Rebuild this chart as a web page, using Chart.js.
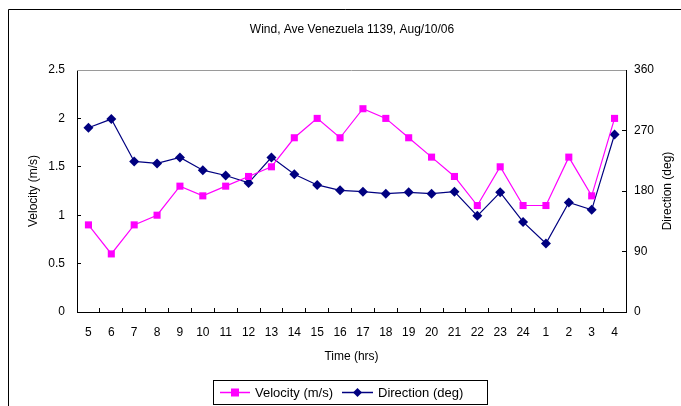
<!DOCTYPE html>
<html>
<head>
<meta charset="utf-8">
<script src="https://cdn.jsdelivr.net/npm/chart.js@4.4.1/dist/chart.umd.min.js"></script>
<style>
  html, body { margin: 0; padding: 0; background: #fff; }
  #wrap { position: relative; width: 681px; height: 406px; }
</style>
</head>
<body>
<div id="wrap"><canvas id="c" width="681" height="406"></canvas></div>
<script>
// Hour of day for each reading
const hours = ['5','6','7','8','9','10','11','12','13','14','15','16','17','18','19','20','21','22','23','24','1','2','3','4'];
// Wind speed (m/s)
const velocity = [0.9, 0.6, 0.9, 1.0, 1.3, 1.2, 1.3, 1.4, 1.5, 1.8, 2.0, 1.8, 2.1, 2.0, 1.8, 1.6, 1.4, 1.1, 1.5, 1.1, 1.1, 1.6, 1.2, 2.0];
// Wind direction (deg)
const direction = [274, 287, 224, 221, 230, 211, 203, 192, 230, 205, 189, 181, 179, 176, 178, 176, 179, 143, 178, 134, 102, 163, 152, 264];

const chartTitle = 'Wind, Ave Venezuela 1139, Aug/10/06';
const velocityLabel = 'Velocity (m/s)';
const directionLabel = 'Direction (deg)';
const timeLabel = 'Time (hrs)';

const FONT = "'Liberation Sans', Arial, sans-serif";
const PINK = '#FF00FF';
const NAVY = '#000080';

const frame = {
  id: 'frame',
  beforeDraw(chart) {
    const ctx = chart.ctx;
    ctx.save();
    ctx.fillStyle = '#fff';
    ctx.fillRect(0, 0, chart.width, chart.height);
    ctx.restore();
  },
  afterDraw(chart) {
    const ctx = chart.ctx;
    const a = chart.chartArea;
    ctx.save();
    // outer border
    ctx.strokeStyle = '#000';
    ctx.lineWidth = 1;
    ctx.beginPath();
    ctx.moveTo(8.5, chart.height + 2);
    ctx.lineTo(8.5, 9.5);
    ctx.lineTo(chart.width + 2, 9.5);
    ctx.stroke();
    // top edge of plot area
    ctx.strokeStyle = '#9a9a9a';
    ctx.beginPath();
    ctx.moveTo(a.left, a.top + 0.5);
    ctx.lineTo(a.right, a.top + 0.5);
    ctx.stroke();
    // title
    ctx.fillStyle = '#000';
    ctx.font = '12px ' + FONT;
    ctx.textAlign = 'center';
    ctx.textBaseline = 'middle';
    ctx.fillText(chartTitle, 352, 30);
    // right axis title
    ctx.save();
    ctx.translate(668, (a.top + a.bottom) / 2);
    ctx.rotate(-Math.PI / 2);
    ctx.fillText(directionLabel, 0, 0);
    ctx.restore();
    // legend
    const lx = 213.5, ly = 380.5, lw = 274, lh = 24;
    ctx.strokeStyle = '#000';
    ctx.strokeRect(lx, ly, lw, lh);
    const cy = ly + lh / 2;
    ctx.font = '13px ' + FONT;
    ctx.textAlign = 'left';
    // velocity entry
    ctx.strokeStyle = PINK; ctx.lineWidth = 1.5;
    ctx.beginPath(); ctx.moveTo(220, cy); ctx.lineTo(250, cy); ctx.stroke();
    ctx.fillStyle = PINK; ctx.fillRect(231, cy - 4, 8, 8);
    ctx.fillStyle = '#000'; ctx.fillText(velocityLabel, 255, cy + 1);
    // direction entry
    ctx.strokeStyle = NAVY;
    ctx.beginPath(); ctx.moveTo(342, cy); ctx.lineTo(373, cy); ctx.stroke();
    ctx.fillStyle = NAVY;
    ctx.beginPath();
    ctx.moveTo(357.5, cy - 4.5); ctx.lineTo(362, cy); ctx.lineTo(357.5, cy + 4.5); ctx.lineTo(353, cy);
    ctx.closePath(); ctx.fill();
    ctx.fillStyle = '#000'; ctx.fillText(directionLabel, 378, cy + 1);
    ctx.restore();
  }
};

new Chart(document.getElementById('c'), {
  type: 'line',
  data: {
    labels: hours,
    datasets: [
      {
        label: velocityLabel,
        data: velocity,
        yAxisID: 'y',
        borderColor: PINK,
        backgroundColor: PINK,
        borderWidth: 1.2,
        pointStyle: 'rect',
        pointRadius: 5,
        pointHoverRadius: 5,
        pointBorderWidth: 0,
        tension: 0
      },
      {
        label: directionLabel,
        data: direction,
        yAxisID: 'y2',
        borderColor: NAVY,
        backgroundColor: NAVY,
        borderWidth: 1.2,
        pointStyle: 'rectRot',
        pointRadius: 5,
        pointHoverRadius: 5,
        pointBorderWidth: 0,
        tension: 0
      }
    ]
  },
  options: {
    responsive: false,
    animation: false,
    events: [],
    layout: { padding: { left: 22, right: 2, top: 70, bottom: 38 } },
    plugins: {
      legend: { display: false },
      title: { display: false },
      tooltip: { enabled: false }
    },
    scales: {
      x: {
        offset: true,
        grid: { display: true, offset: true, drawOnChartArea: false, drawTicks: true, tickLength: -4, color: '#000' },
        border: { display: true, color: '#000' },
        ticks: { color: '#000', font: { family: FONT, size: 12 }, padding: 17, maxRotation: 0, autoSkip: false },
        title: { display: true, text: timeLabel, color: '#000', font: { family: FONT, size: 12 } },
        afterFit(s) { s.height = 56; }
      },
      y: {
        position: 'left',
        min: 0, max: 2.5,
        ticks: { stepSize: 0.5, color: '#000', font: { family: FONT, size: 12 }, padding: 16,
          callback: v => (Math.round(v * 10) / 10).toString() },
        grid: { display: true, drawOnChartArea: false, drawTicks: true, tickLength: -4, color: '#000' },
        border: { display: true, color: '#000' },
        title: { display: true, text: velocityLabel, color: '#000', font: { family: FONT, size: 12 } },
        afterFit(s) { s.width = 55; }
      },
      y2: {
        position: 'right',
        min: 0, max: 360,
        ticks: { stepSize: 90, color: '#000', font: { family: FONT, size: 12 }, padding: 12 },
        grid: { display: true, drawOnChartArea: false, drawTicks: true, tickLength: -4, color: '#000' },
        border: { display: true, color: '#000' },
        title: { display: false },
        afterFit(s) { s.width = 53; }
      }
    }
  },
  plugins: [frame]
});
</script>
</body>
</html>
